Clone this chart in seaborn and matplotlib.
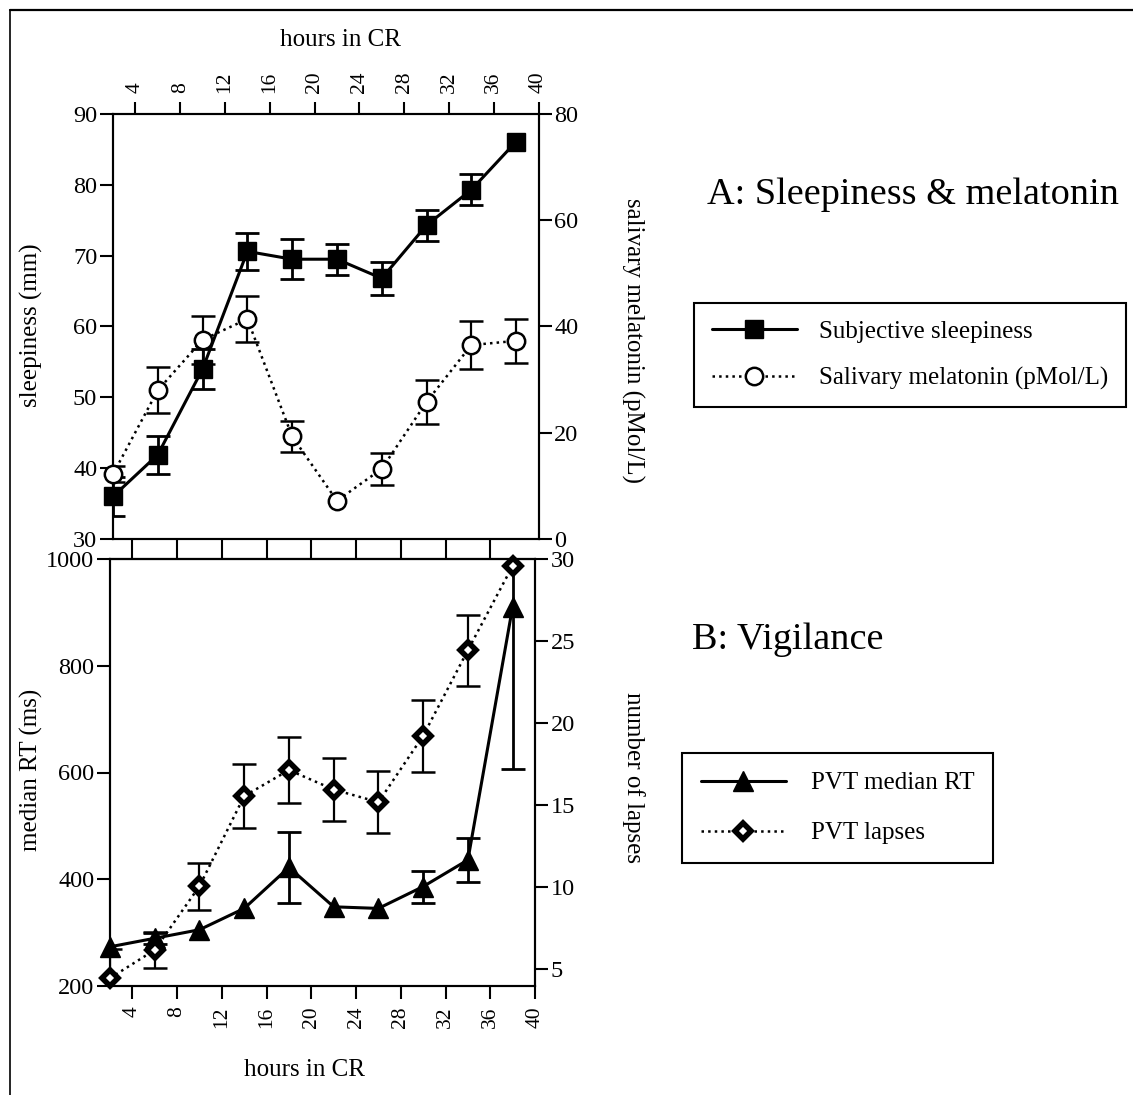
import matplotlib
matplotlib.use("Agg")
import matplotlib.pyplot as plt
import seaborn as sns
from matplotlib.lines import Line2D

# ---------------- data ----------------
hours = [2, 6, 10, 14, 18, 22, 26, 30, 34, 38]
hour_ticks = [4, 8, 12, 16, 20, 24, 28, 32, 36, 40]

sleepiness = [36.0, 41.9, 54.0, 70.6, 69.5, 69.5, 66.8, 74.3, 79.3, 86.1]
sleepiness_err = [2.8, 2.7, 2.8, 2.6, 2.8, 2.2, 2.35, 2.2, 2.2, 0.0]

melatonin = [12.2, 28.0, 37.5, 41.4, 19.3, 7.2, 13.2, 25.8, 36.5, 37.3]
melatonin_err = [1.5, 4.3, 4.5, 4.3, 2.9, 0.0, 3.0, 4.1, 4.5, 4.2]

median_rt = [273, 289, 305, 345, 422, 348, 345, 386, 436, 911]
median_rt_err = [0, 10, 0, 0, 66, 0, 0, 30, 41, 304]

lapses = [4.46, 6.18, 10.07, 15.56, 17.15, 15.96, 15.19, 19.24, 24.46, 29.6]
lapses_err = [1.8, 1.1, 1.43, 1.95, 2.03, 1.9, 1.9, 2.18, 2.17, 0.0]

sleep_ticks = [30, 40, 50, 60, 70, 80, 90]
mel_ticks = [0, 20, 40, 60, 80]
rt_ticks = [200, 400, 600, 800, 1000]
lapse_ticks = [5, 10, 15, 20, 25, 30]

# ---------------- style ----------------
sns.set_style("ticks")
plt.rcParams["font.family"] = ["Liberation Serif", "DejaVu Serif"]
plt.rcParams["axes.linewidth"] = 1.5
for k in ("text.color", "axes.labelcolor", "xtick.color", "ytick.color",
          "axes.edgecolor", "xtick.labelcolor", "ytick.labelcolor"):
    plt.rcParams[k] = "black"

W, H = 1133, 1095
fig = plt.figure(figsize=(W / 100, H / 100), dpi=100)

def fx(px):
    return px / W

def fy(py):
    return 1 - py / H

ax1 = fig.add_axes([fx(113), fy(539), fx(538.5 - 113), (539 - 114) / H])
ax2 = ax1.twinx()
ax3 = fig.add_axes([fx(110), fy(985.7), fx(535 - 110), (985.7 - 559.3) / H])
ax4 = ax3.twinx()

XTICK_FS = 15.5
YTICK_FS = 17.5
LABEL_FS = 18
CAP = 8.5


def draw_err(ax, x, y, e, lw, ct):
    # only error bars that are visible outside the marker
    xs = [a for a, b in zip(x, e) if b > 0]
    ys = [a for a, b in zip(y, e) if b > 0]
    es = [b for b in e if b > 0]
    ax.errorbar(xs, ys, yerr=es, fmt="none", ecolor="black",
                elinewidth=lw, capsize=CAP, capthick=ct, zorder=1)


# ---------------- panel A ----------------
draw_err(ax1, hours, sleepiness, sleepiness_err, 2.0, 2.0)
sns.lineplot(x=hours, y=sleepiness, ax=ax1, color="black", linewidth=2.2,
             marker="s", markersize=13, markerfacecolor="black",
             markeredgecolor="black", markeredgewidth=1, legend=False, zorder=3)
l_sleep = ax1.lines[-1]
l_sleep.set_clip_on(False)
l_sleep.set_label("Subjective sleepiness")

draw_err(ax2, hours, melatonin, melatonin_err, 1.6, 1.8)
sns.lineplot(x=hours, y=melatonin, ax=ax2, color="black", linewidth=1.8,
             linestyle=":", marker="o", markersize=12.5, markerfacecolor="white",
             markeredgecolor="black", markeredgewidth=1.8, legend=False, zorder=3)
l_mel = ax2.lines[-1]
l_mel.set_clip_on(False)
l_mel.set_linestyle(":")
l_mel.set_markerfacecolor("white")
l_mel.set_label("Salivary melatonin (pMol/L)")

ax1.set_xlim(2, 40)
ax1.set_ylim(30, 90)
ax2.set_ylim(0, 80)
ax1.set_xticks(hour_ticks)
ax1.set_yticks(sleep_ticks)
ax2.set_yticks(mel_ticks)
ax1.xaxis.set_ticks_position("top")
ax1.tick_params(axis="x", top=True, bottom=False, labeltop=True, labelbottom=False,
                direction="out", length=9, width=1.5, labelsize=XTICK_FS,
                labelrotation=90, pad=6)
ax1.tick_params(axis="y", direction="out", length=9.4, width=1.5, labelsize=YTICK_FS, pad=2)
ax2.tick_params(axis="y", direction="out", length=9.4, width=1.5, labelsize=YTICK_FS, pad=2)
ax1.set_xlabel("")
ax1.set_ylabel("")
ax2.set_ylabel("")

# ---------------- panel B ----------------
draw_err(ax3, hours, median_rt, median_rt_err, 2.0, 2.0)
sns.lineplot(x=hours, y=median_rt, ax=ax3, color="black", linewidth=2.2,
             marker="^", markersize=14, markerfacecolor="black",
             markeredgecolor="black", markeredgewidth=1, legend=False, zorder=3)
l_rt = ax3.lines[-1]
l_rt.set_clip_on(False)
l_rt.set_label("PVT median RT")

draw_err(ax4, hours, lapses, lapses_err, 1.6, 1.8)
sns.lineplot(x=hours, y=lapses, ax=ax4, color="black", linewidth=1.8,
             linestyle=":", marker="D", markersize=8.5, markerfacecolor="white",
             markeredgecolor="black", markeredgewidth=4.0, legend=False, zorder=3)
l_lap = ax4.lines[-1]
l_lap.set_clip_on(False)
l_lap.set_linestyle(":")
l_lap.set_markerfacecolor("white")
l_lap.set_label("PVT lapses")

ax3.set_xlim(2, 40)
ax3.set_ylim(200, 1000)
ax4.set_ylim(4, 30)
ax3.set_xticks(hour_ticks)
ax3.set_yticks(rt_ticks)
ax4.set_yticks(lapse_ticks)
ax3.tick_params(axis="x", direction="out", length=9, width=1.5, labelsize=XTICK_FS,
                labelrotation=90, pad=6)
ax3.tick_params(axis="y", direction="out", length=9.4, width=1.5, labelsize=YTICK_FS, pad=2)
ax4.tick_params(axis="y", direction="out", length=9.4, width=1.5, labelsize=YTICK_FS, pad=2)
ax3.set_xlabel("")
ax3.set_ylabel("")
ax4.set_ylabel("")

# connecting ticks in the gap between panels
sec = ax3.secondary_xaxis("top")
sec.set_xticks(hour_ticks[:-1])
sec.tick_params(axis="x", direction="out", length=14.4, width=1.5, labeltop=False)
sec.spines["top"].set_linewidth(1.5)

for a in (ax1, ax2, ax3, ax4):
    for s in a.spines.values():
        s.set_linewidth(1.5)
        s.set_color("black")
    a.grid(False)

# ---------------- axis labels ----------------
fig.text(fx(340), fy(40), "hours in CR", ha="center", va="center", fontsize=LABEL_FS)
fig.text(fx(304), fy(1070), "hours in CR", ha="center", va="center", fontsize=LABEL_FS)
fig.text(fx(31), fy(325), "sleepiness (mm)", ha="center", va="center",
         rotation=90, fontsize=LABEL_FS)
fig.text(fx(633), fy(340), "salivary melatonin (pMol/L)", ha="center", va="center",
         rotation=270, fontsize=LABEL_FS)
fig.text(fx(31), fy(770), "median RT (ms)", ha="center", va="center",
         rotation=90, fontsize=LABEL_FS)
fig.text(fx(633), fy(777), "number of lapses", ha="center", va="center",
         rotation=270, fontsize=LABEL_FS)

# ---------------- titles ----------------
fig.text(fx(707), fy(195), "A: Sleepiness & melatonin", ha="left", va="center", fontsize=27.5)
fig.text(fx(692), fy(640), "B: Vigilance", ha="left", va="center", fontsize=27.5)

# ---------------- legends ----------------
legA = fig.legend(handles=[l_sleep, l_mel], loc="upper left",
                  bbox_to_anchor=(fx(694), fy(303)), bbox_transform=fig.transFigure,
                  fontsize=18, frameon=True, fancybox=False, framealpha=1,
                  edgecolor="black", borderaxespad=0, borderpad=0.7,
                  handlelength=3.4, handletextpad=0.9, labelspacing=0.95, numpoints=1)
legA.get_frame().set_linewidth(1.5)
legB = fig.legend(handles=[l_rt, l_lap], loc="upper left",
                  bbox_to_anchor=(fx(682), fy(753)), bbox_transform=fig.transFigure,
                  fontsize=18, frameon=True, fancybox=False, framealpha=1,
                  edgecolor="black", borderaxespad=0, borderpad=0.75,
                  handlelength=3.4, handletextpad=1.0, labelspacing=1.1, numpoints=1)
legB.get_frame().set_linewidth(1.5)

# ---------------- page border ----------------
fig.add_artist(Line2D([fx(10), fx(10)], [0, fy(10)], color="black", linewidth=1.2,
                      transform=fig.transFigure))
fig.add_artist(Line2D([fx(10), 1], [fy(10), fy(10)], color="black", linewidth=1.6,
                      transform=fig.transFigure))

fig.savefig("out.png", dpi=100)
